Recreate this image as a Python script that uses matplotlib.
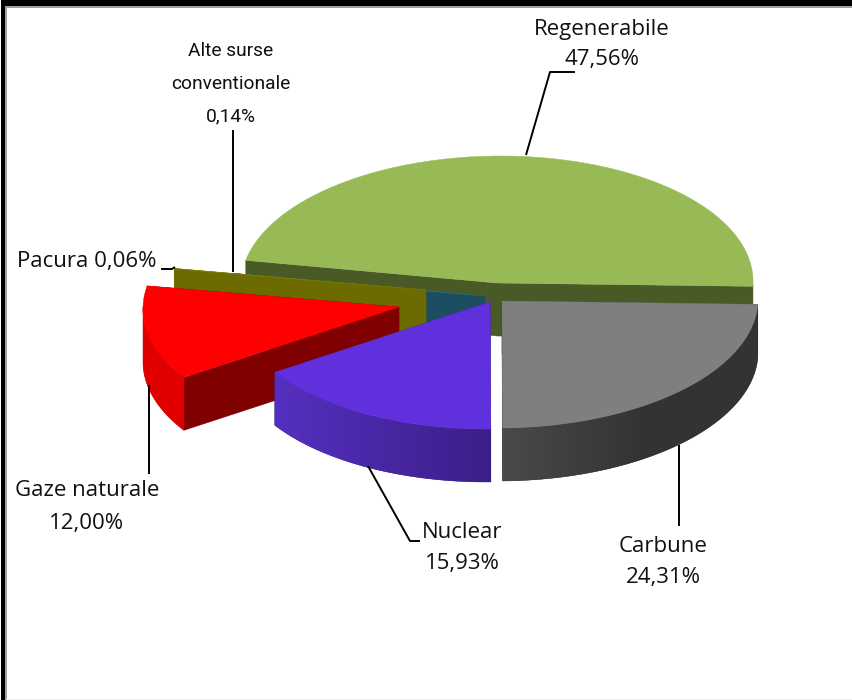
import numpy as np
import matplotlib
matplotlib.use("Agg")
import matplotlib.pyplot as plt
from matplotlib.patches import Polygon, Rectangle
from matplotlib.colors import to_rgb

# ---- data ----
slices = ["Regenerabile", "Carbune", "Nuclear", "Gaze naturale", "Pacura", "Alte surse conventionale"]
shares = [47.56, 24.31, 15.93, 12.00, 0.06, 0.14]
value_labels = ["47,56%", "24,31%", "15,93%", "12,00%", "0,06%", "0,14%"]

# ---- style / layout ----
ROT = -1.5
DEPTH = 53
RX, RY = 256, 127
SHEAR = 0.028
centers = {"Regenerabile": (497, 283), "Carbune": (502, 301), "Nuclear": (490, 302),
           "Gaze naturale": (399, 307), "Pacura": (426, 290), "Alte surse conventionale": (485, 296)}
top_col = {"Regenerabile": "#98BA56", "Carbune": "#7F7F7F", "Nuclear": "#6030DC",
           "Gaze naturale": "#FF0000", "Pacura": "#808000", "Alte surse conventionale": "#2E7D8C"}
face_col = {"Regenerabile": "#4A5A26", "Carbune": "#404040", "Nuclear": "#3C1E88",
            "Gaze naturale": "#800000", "Pacura": "#6B6B00", "Alte surse conventionale": "#1D4D60"}
wall_cols = {"Regenerabile": ("#4A5A26", "#4A5A26"), "Carbune": ("#333333", "#4A4A4A"),
             "Nuclear": ("#3C1E88", "#5530C0"), "Gaze naturale": ("#E00000", "#E00000"),
             "Pacura": ("#6B6B00", "#6B6B00"), "Alte surse conventionale": ("#1D4D60", "#1D4D60")}
wall_ramp = {"Carbune": 1.8, "Nuclear": 1.0}
draw_order = ["Regenerabile", "Alte surse conventionale", "Pacura", "Gaze naturale", "Nuclear", "Carbune"]

plt.rcParams['font.family'] = ['Open Sans', 'DejaVu Sans']
FS = 16.0
NARROW = ['Roboto', 'DejaVu Sans']
FS_NARROW = 13.8

fig = plt.figure(figsize=(8.53, 7.0), dpi=100, facecolor="white")
ax = fig.add_axes([0, 0, 1, 1])

# angular extents from the values: Regenerabile goes counter-clockwise from ROT, the rest clockwise
span = np.array(shares) / sum(shares) * 360
extent = {slices[0]: (ROT, ROT + span[0])}
a = ROT
for name, s in zip(slices[1:], span[1:]):
    extent[name] = (a - s, a)
    a -= s


def rim(name, n=None):
    a0, a1 = extent[name]
    n = n or max(3, 2 * int(abs(a1 - a0)))
    t = np.radians(np.linspace(a0, a1, n))
    cx, cy = centers[name]
    y = cy - RY * np.sin(t)
    x = cx + RX * np.cos(t) - SHEAR * (y - cy)
    return x, y, t


def face(name, px, py, colour, z):
    cx, cy = centers[name]
    ax.add_patch(Polygon([(cx, cy), (px, py), (px, py + DEPTH), (cx, cy + DEPTH)],
                         closed=True, fc=colour, ec=colour, lw=0.3, zorder=z))


for i, name in enumerate(draw_order):
    z = 2 + i
    x, y, t = rim(name)
    cx, cy = centers[name]
    face(name, x[0], y[0], face_col[name], z)
    face(name, x[-1], y[-1], face_col[name], z)
    # outer wall: front part only, horizontal shade clipped to the wall outline
    front = np.sin(t) <= 0.0
    if front.sum() >= 2:
        fx, fy = x[front], y[front]
        outline = np.column_stack([np.r_[fx, fx[::-1]], np.r_[fy, fy[::-1] + DEPTH]])
        wall = Polygon(outline, closed=True, fc=wall_cols[name][0], ec=wall_cols[name][0],
                       lw=0.3, zorder=z + 0.1)
        ax.add_patch(wall)
        c_right, c_left = map(lambda c: np.array(to_rgb(c)), wall_cols[name])
        f = np.clip(1 - np.linspace(0, 1, 256) * wall_ramp.get(name, 1.0), 0, 1)[:, None]
        ramp = (c_right + (c_left - c_right) * f)[None, :, :]
        im = ax.imshow(ramp, extent=(fx.min(), fx.max(), fy.max() + DEPTH, fy.min()),
                       aspect="auto", zorder=z + 0.2, interpolation="bilinear")
        clip = Polygon(outline, closed=True, transform=ax.transData)
        im.set_clip_path(clip)
    ax.add_patch(Polygon(np.column_stack([np.r_[cx, x], np.r_[cy, y]]), closed=True,
                         fc=top_col[name], ec=top_col[name], lw=0.3, zorder=z + 0.5))

ax.set_xlim(0, 853)
ax.set_ylim(700, 0)
ax.set_aspect("auto")
ax.axis("off")

# leaders
leaders = [[(526, 155), (550, 72), (575, 72)],
           [(233, 130), (233, 272)],
           [(161, 269), (172, 269), (175, 267)],
           [(149, 385), (149, 474)],
           [(368, 466), (410, 541), (420, 541)],
           [(679, 445), (679, 526)]]
for pts in leaders:
    ax.plot(*zip(*pts), color="black", lw=1.4, zorder=20, solid_capstyle="butt")

# labels
kw = dict(ha="center", va="center", fontsize=FS, color="#111111", zorder=21)
ax.text(602, 30, slices[0], **kw)
ax.text(602, 60, value_labels[0], **kw)
ax.text(663, 546, slices[1], **kw)
ax.text(663, 578, value_labels[1], **kw)
ax.text(462, 532, slices[2], **kw)
ax.text(462, 564, value_labels[2], **kw)
ax.text(87, 491, slices[3], **kw)
ax.text(87, 523, value_labels[3], **kw)
ax.text(87, 262, slices[4] + " " + value_labels[4], **kw)
nk = dict(kw, family=NARROW, fontsize=FS_NARROW)
ax.text(231, 51, "Alte surse", **nk)
ax.text(231, 84, "conventionale", **nk)
ax.text(231, 116, value_labels[5], **nk)

# frame
ax.add_patch(Rectangle((1, 0), 852, 6, fc="black", ec="none", zorder=30))
ax.add_patch(Rectangle((1, 0), 4.5, 700, fc="black", ec="none", zorder=30))
ax.add_patch(Rectangle((5.5, 6), 848, 1.8, fc="#A0A0A0", ec="none", zorder=29))
ax.add_patch(Rectangle((5.5, 6), 1.5, 694, fc="#A0A0A0", ec="none", zorder=29))
ax.add_patch(Rectangle((6, 698.8), 847, 1.2, fc="#EDEDED", ec="none", zorder=29))

fig.savefig("out.png", dpi=100)
